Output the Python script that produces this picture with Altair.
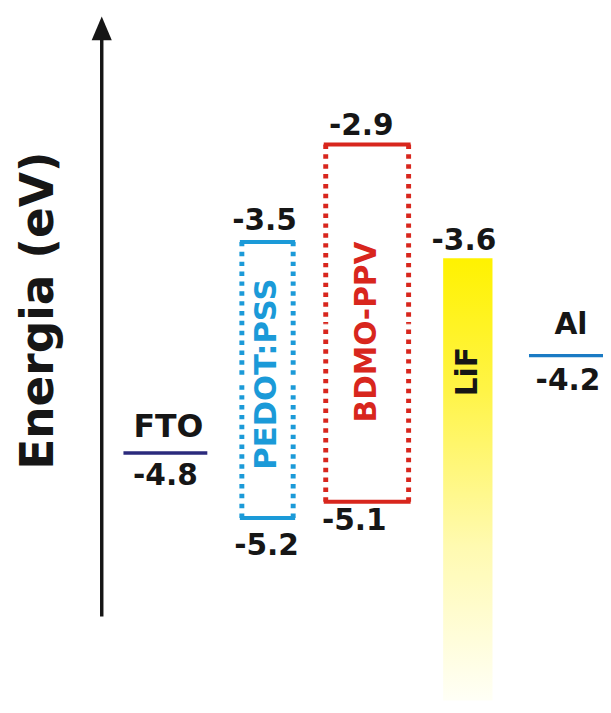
import altair as alt
import pandas as pd

# ---------------- data ----------------
layer_names = ["FTO", "PEDOT:PSS", "BDMO-PPV", "LiF", "Al"]
upper_level = [-4.8, -3.5, -2.9, -3.6, -4.2]      # eV
lower_level = [None, -5.2, -5.1, None, None]      # eV
value_texts = ["-4.8", "-3.5", "-5.2", "-2.9", "-5.1", "-3.6", "-4.2"]
value_levels = [-4.8, -3.5, -5.2, -2.9, -5.1, -3.6, -4.2]
value_layer = ["FTO", "PEDOT:PSS", "PEDOT:PSS", "BDMO-PPV", "BDMO-PPV", "LiF", "Al"]
axis_title = "Energia (eV)"

# ---------------- layout / style ----------------
energy_domain = [-6.323, -2.088]
pos_domain = [0, 603]
x_left = [117, 237, 322, 441, 528]
x_right = [202, 289, 406, 491, 603]
layer_colors = ["#2b2a7c", "#1b9ad8", "#d8261d", "#fff200", "#1b7bc4"]
value_dx = [0, -3, -1, -6, -13, -4, 2]
value_dy = [23, -21, 28, -19, 20, -17, 26]
name_dx = [3, 0, 0, 0, 5]        # horizontal names: screen dx
name_dy = [-26, 0, 0, 0, -31]
rot_shift = [0, 6, -9, -115, 0]  # along-text shift for rotated names
name_size = [32, 31, 30, 30, 30]
arrow_x = 95
arrow_bottom, arrow_top, arrow_head = -5.806, -2.25, -2.185
FONT = "DejaVu Sans"
INK = "#161616"

df = pd.DataFrame({
    "name": layer_names, "top": upper_level, "bottom": lower_level,
    "x0": x_left, "x1": x_right, "color": layer_colors,
})
df["xc"] = (df["x0"] + df["x1"]) / 2
df["mid"] = df.apply(lambda r: (r["top"] + r["bottom"]) / 2 if pd.notna(r["bottom"]) else r["top"], axis=1)
df["floor"] = energy_domain[0]

xs = alt.Scale(domain=pos_domain, nice=False, zero=False)
ys = alt.Scale(domain=energy_domain, nice=False, zero=False)


def X(f):
    return alt.X(f, type="quantitative", scale=xs, axis=None)


def Y(f):
    return alt.Y(f, type="quantitative", scale=ys, axis=None)


layers = []

# LiF gradient bar
lif = df[df["name"] == "LiF"]
grad = alt.LinearGradient(
    gradient="linear", x1=0, x2=0, y1=0, y2=1,
    stops=[
        alt.GradientStop(offset=0, color="#fff200"),
        alt.GradientStop(offset=0.3, color="#fff447"),
        alt.GradientStop(offset=0.65, color="#fffab0"),
        alt.GradientStop(offset=1, color="#fffff6"),
    ],
)
layers.append(alt.Chart(lif).mark_rect(fill=grad, strokeWidth=0).encode(
    x=X("x0"), x2="x1", y=Y("top"), y2="floor"))

# single level lines (FTO, Al)
single = df[df["bottom"].isna() & (df["name"] != "LiF")]
layers.append(alt.Chart(single).mark_rule(strokeWidth=3.5).encode(
    x=X("x0"), x2="x1", y=Y("top"), color=alt.Color("color:N", scale=None)))

# boxes (PEDOT:PSS, BDMO-PPV)
boxes = df[df["bottom"].notna()]
edges = pd.concat([
    boxes[["x0", "x1", "color"]].assign(E=boxes["top"]),
    boxes[["x0", "x1", "color"]].assign(E=boxes["bottom"]),
])
layers.append(alt.Chart(edges).mark_rule(strokeWidth=4, strokeCap="square").encode(
    x=X("x0"), x2="x1", y=Y("E"), color=alt.Color("color:N", scale=None)))

sides = pd.concat([
    pd.DataFrame({"x": boxes["x0"], "a": boxes["top"], "b": boxes["mid"], "color": boxes["color"]}),
    pd.DataFrame({"x": boxes["x1"], "a": boxes["top"], "b": boxes["mid"], "color": boxes["color"]}),
    pd.DataFrame({"x": boxes["x0"], "a": boxes["bottom"], "b": boxes["mid"], "color": boxes["color"]}),
    pd.DataFrame({"x": boxes["x1"], "a": boxes["bottom"], "b": boxes["mid"], "color": boxes["color"]}),
])
layers.append(alt.Chart(sides).mark_rule(strokeWidth=5, strokeDash=[4.5, 5.5], strokeCap="butt").encode(
    x=X("x"), y=Y("a"), y2="b", color=alt.Color("color:N", scale=None)))

# arrow
arrow = pd.DataFrame({"x": [arrow_x], "y0": [arrow_bottom], "y1": [arrow_top], "h": [arrow_head]})
layers.append(alt.Chart(arrow).mark_rule(strokeWidth=3.5, color=INK).encode(
    x=X("x"), y=Y("y0"), y2="y1"))
layers.append(alt.Chart(arrow).mark_point(
    shape="M0,-1L0.85,1L-0.85,1Z", size=576, filled=True, color=INK, opacity=1, strokeWidth=0
).encode(x=X("x"), y=Y("h")))

# value labels
centers = dict(zip(df["name"], df["xc"]))
for txt, lev, lay, ddx, ddy in zip(value_texts, value_levels, value_layer, value_dx, value_dy):
    d = pd.DataFrame({"t": [txt], "x": [centers[lay]], "y": [lev]})
    layers.append(alt.Chart(d).mark_text(
        font=FONT, fontWeight="bold", fontSize=30, color=INK,
        align="center", baseline="middle", dx=ddx, dy=ddy,
    ).encode(x=X("x"), y=Y("y"), text="t:N"))

# layer names
for i, r in df.iterrows():
    d = pd.DataFrame({"t": [r["name"]], "x": [r["xc"]], "y": [r["mid"]]})
    col = INK if r["name"] in ("FTO", "Al", "LiF") else r["color"]
    if r["name"] in ("FTO", "Al"):
        m = alt.Chart(d).mark_text(font=FONT, fontWeight="bold", fontSize=name_size[i], color=col,
                                   align="center", baseline="middle", dx=name_dx[i], dy=name_dy[i])
    else:
        m = alt.Chart(d).mark_text(font=FONT, fontWeight="bold", fontSize=name_size[i], color=col,
                                   align="center", baseline="middle", angle=270, dx=rot_shift[i])
    layers.append(m.encode(x=X("x"), y=Y("y"), text="t:N"))

# axis title
title_df = pd.DataFrame({"t": [axis_title]})
layers.append(alt.Chart(title_df).mark_text(
    font=FONT, fontWeight="bold", fontSize=46, color=INK, angle=270,
    align="center", baseline="middle",
).encode(x=alt.value(32), y=alt.value(302), text="t:N"))

chart = alt.layer(*layers).properties(
    width=603, height=697, padding=0, autosize=alt.AutoSizeParams(type="none"),
    background="white",
).configure_view(stroke=None)

chart.save("out.html", embed_options={"renderer": "svg", "actions": False})
